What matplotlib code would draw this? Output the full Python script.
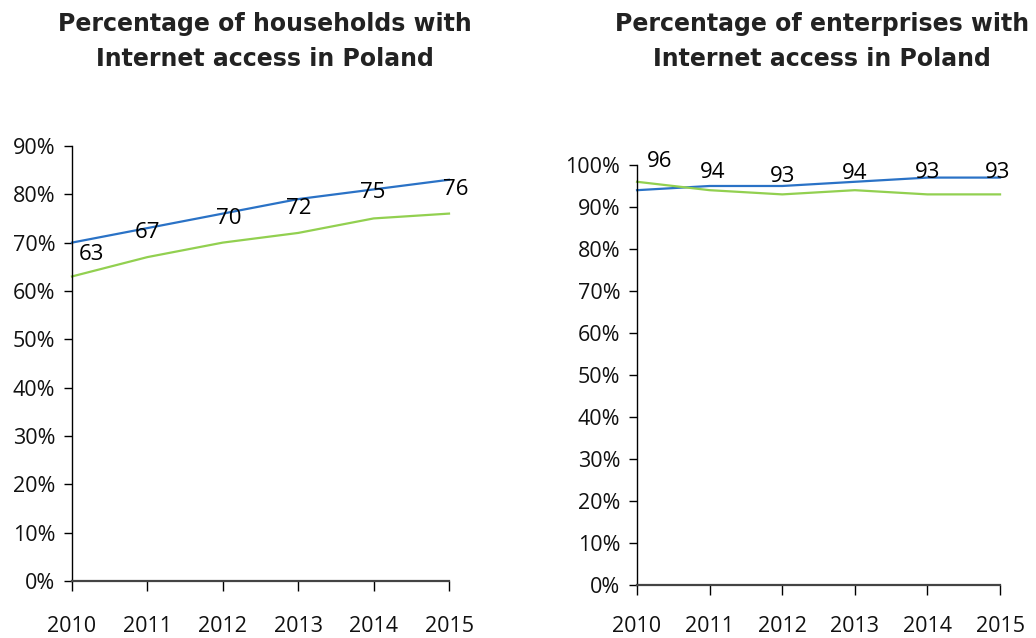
import matplotlib.pyplot as plt
from matplotlib.ticker import PercentFormatter

years = [2010, 2011, 2012, 2013, 2014, 2015]

# households with internet access (%)
hh_eu = [70, 73, 76, 79, 81, 83]
hh_pl = [63, 67, 70, 72, 75, 76]

# enterprises with internet access (%)
ent_eu = [94, 95, 95, 96, 97, 97]
ent_pl = [96, 94, 93, 94, 93, 93]

blue = "#2a72c6"
green = "#92d050"
tick_font = "Open Sans"

fig = plt.figure(figsize=(10.36, 6.38), dpi=100)

ax1 = fig.add_axes([0.0695, 0.0893, 0.3639, 0.682])
ax2 = fig.add_axes([0.6149, 0.0831, 0.3504, 0.6583])


def style_axis(ax, ymax, step, xpad):
    ax.set_xlim(2010, 2015)
    ax.set_ylim(0, ymax)
    ax.set_yticks(range(0, ymax + 1, step))
    ax.yaxis.set_major_formatter(PercentFormatter(decimals=0))
    ax.set_xticks(years)
    ax.spines["top"].set_visible(False)
    ax.spines["right"].set_visible(False)
    ax.spines["left"].set_linewidth(1.0)
    ax.spines["bottom"].set_linewidth(1.6)
    ax.spines["bottom"].set_color("#444444")
    ax.tick_params(axis="y", direction="out", length=6, width=1, pad=6, labelsize=15.5)
    ax.tick_params(axis="x", direction="out", length=7, width=1, pad=xpad, labelsize=15.5)
    for lab in ax.get_xticklabels() + ax.get_yticklabels():
        lab.set_fontfamily(tick_font)
        lab.set_color("#111111")
    ax.margins(x=0)


# left: households
ax1.plot(years, hh_eu, color=blue, lw=1.6, clip_on=False)
ax1.plot(years, hh_pl, color=green, lw=1.6, clip_on=False)
style_axis(ax1, 90, 10, 18)
offs1 = [(14, -8.5), (0, -3.5), (4, -3.5), (0.5, -6.5), (-1, -2), (5, -7)]
for x, y, v, o in zip(years, hh_eu, hh_pl, offs1):
    ax1.annotate(str(v), (x, y), xytext=o, textcoords="offset points",
                 ha="center", va="center", fontsize=16, family=tick_font)

# right: enterprises
ax2.plot(years, ent_eu, color=blue, lw=1.6, clip_on=False)
ax2.plot(years, ent_pl, color=green, lw=1.6, clip_on=False)
style_axis(ax2, 100, 10, 15)
offs2 = [(16, 21), (2, 9.5), (0, 7), (0, 6), (0, 4), (-2, 4)]
for x, y, v, o in zip(years, ent_eu, ent_pl, offs2):
    ax2.annotate(str(v), (x, y), xytext=o, textcoords="offset points",
                 ha="center", va="center", fontsize=16, family=tick_font)

fig.text(0.2558, 0.935, "Percentage of households with\nInternet access in Poland",
         ha="center", va="center", fontsize=17, fontweight="bold",
         linespacing=1.55, color="#222222")
fig.text(0.7934, 0.935, "Percentage of enterprises with\nInternet access in Poland",
         ha="center", va="center", fontsize=17, fontweight="bold",
         linespacing=1.55, color="#222222")

fig.savefig("out.png", dpi=100)
